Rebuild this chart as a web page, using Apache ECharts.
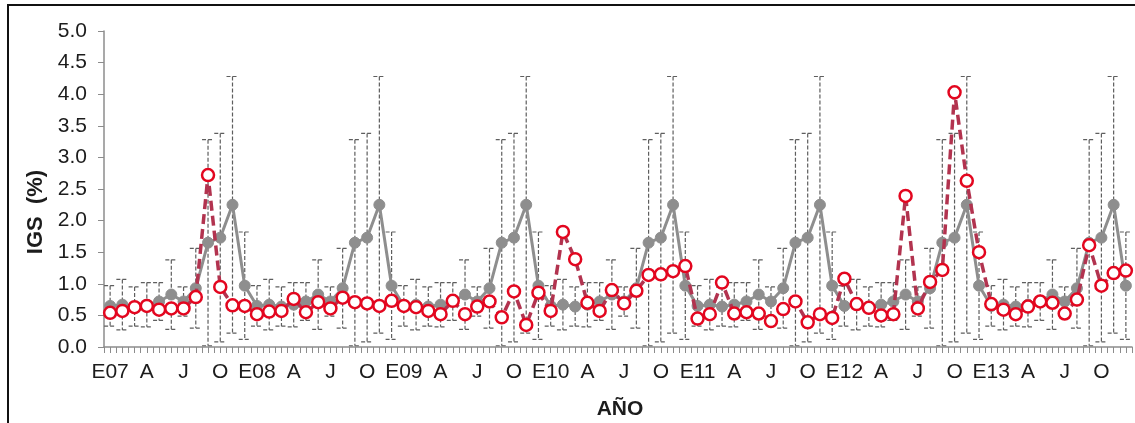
<!DOCTYPE html>
<html>
<head>
<meta charset="utf-8">
<script src="https://cdn.jsdelivr.net/npm/echarts@6/dist/echarts.min.js"></script>
<style>
  html, body { margin: 0; padding: 0; background: #fff; overflow: hidden; }
  #chart { position: absolute; left: 0; top: 0; width: 1135px; height: 423px; }
  #frame { position: absolute; left: 7px; top: 4px; width: 1300px; height: 600px;
           border-top: 2px solid #111; border-left: 2px solid #111; pointer-events: none; }
</style>
</head>
<body>
<div id="chart"></div>
<div id="frame"></div>
<script>
// Years covered (two-digit) and month initials used on the axis
const YEARS = ['07', '08', '09', '10', '11', '12', '13'];
const MONTHS = ['E', 'F', 'M', 'A', 'My', 'Jn', 'J', 'Ag', 'S', 'O', 'N', 'D'];

// Monthly reference pattern (mean and standard deviation of IGS, Jan..Dec)
const MEAN_IGS = [0.65, 0.67, 0.64, 0.67, 0.72, 0.83, 0.72, 0.93, 1.65, 1.73, 2.25, 0.97];
const SD_IGS   = [0.32, 0.40, 0.31, 0.35, 0.30, 0.55, 0.23, 0.63, 1.63, 1.65, 2.03, 0.85];

// Observed monthly IGS (%), one row per year 2007..2013
const IGS_2007 = [0.54, 0.57, 0.63, 0.65, 0.59, 0.61, 0.61, 0.79, 2.72, 0.95, 0.66, 0.65];
const IGS_2008 = [0.52, 0.56, 0.57, 0.76, 0.55, 0.71, 0.61, 0.78, 0.71, 0.69, 0.65, 0.73];
const IGS_2009 = [0.65, 0.63, 0.57, 0.52, 0.73, 0.52, 0.64, 0.72, 0.47, 0.88, 0.35, 0.86];
const IGS_2010 = [0.57, 1.82, 1.39, 0.70, 0.57, 0.90, 0.69, 0.89, 1.14, 1.15, 1.20, 1.28];
const IGS_2011 = [0.45, 0.52, 1.02, 0.53, 0.55, 0.53, 0.41, 0.60, 0.72, 0.39, 0.52, 0.46];
const IGS_2012 = [1.08, 0.68, 0.62, 0.50, 0.52, 2.39, 0.61, 1.03, 1.22, 4.03, 2.63, 1.50];
const IGS_2013 = [0.68, 0.59, 0.52, 0.64, 0.72, 0.70, 0.53, 0.75, 1.61, 0.97, 1.17, 1.21];

const Y_TICKS = { min: 0, max: 5, step: 0.5 };

// ---- build series ----
const categories = [];
YEARS.forEach(y => MONTHS.forEach(m => categories.push(m + y)));
const observed = [].concat(IGS_2007, IGS_2008, IGS_2009, IGS_2010, IGS_2011, IGS_2012, IGS_2013);
const pattern = [];
const errBars = [];
YEARS.forEach(() => MEAN_IGS.forEach((m, k) => {
  const i = pattern.length;
  pattern.push(m);
  errBars.push([i, m + SD_IGS[k], Math.max(0, m - SD_IGS[k])]);
}));
// half-month ticks along the time axis
const halfSteps = [];
categories.forEach(c => { halfSteps.push(c + 'a'); halfSteps.push(c + 'b'); });

function axisLabelFor(cat, idx) {
  const month = idx % 12;
  const yy = YEARS[Math.floor(idx / 12)];
  if (month === 0) return 'E' + yy;
  if (month === 3) return 'A';
  if (month === 6) return 'J';
  if (month === 9) return 'O';
  return '';
}

const chart = echarts.init(document.getElementById('chart'), null, { renderer: 'canvas' });
const FONT = '"Liberation Sans", Arial, Helvetica, sans-serif';

chart.setOption({
  animation: false,
  backgroundColor: '#ffffff',
  grid: { left: 104, right: 3, top: 31, bottom: 76, containLabel: false },
  xAxis: [
    {
      type: 'category',
      data: categories,
      boundaryGap: true,
      axisLine: { show: true, lineStyle: { color: '#8c8c8c', width: 1.5 } },
      axisTick: { show: false },
      axisLabel: {
        interval: 0,
        formatter: axisLabelFor,
        fontFamily: FONT, fontSize: 21, color: '#1c1c1c', margin: 15
      },
      splitLine: { show: false }
    },
    {
      type: 'category',
      data: halfSteps,
      position: 'bottom',
      boundaryGap: true,
      axisLine: { show: false },
      axisTick: { show: true, interval: 0, length: 6, lineStyle: { color: '#8c8c8c', width: 1 } },
      axisLabel: { show: false },
      splitLine: { show: false }
    }
  ],
  yAxis: {
    type: 'value',
    min: Y_TICKS.min, max: Y_TICKS.max, interval: Y_TICKS.step,
    axisLine: { show: true, lineStyle: { color: '#8c8c8c', width: 1.5 } },
    axisTick: { show: true, length: 6, lineStyle: { color: '#8c8c8c' } },
    axisLabel: {
      formatter: v => v.toFixed(1),
      fontFamily: FONT, fontSize: 21, color: '#1c1c1c', margin: 17
    },
    splitLine: { show: false }
  },
  graphic: [
    {
      type: 'text', x: 36, y: 212, rotation: Math.PI / 2,
      style: { text: 'IGS  (%)', font: 'bold 22px ' + FONT, fill: '#1c1c1c',
               textAlign: 'center', textVerticalAlign: 'middle' }
    },
    {
      type: 'text', x: 620, y: 409,
      style: { text: 'AÑO', font: 'bold 21px ' + FONT, fill: '#1c1c1c',
               textAlign: 'center', textVerticalAlign: 'middle' }
    }
  ],
  series: [
    {
      name: 'DE',
      type: 'custom',
      xAxisIndex: 0,
      z: 1,
      data: errBars,
      encode: { x: 0, y: [1, 2] },
      renderItem: function (params, api) {
        const x = api.value(0);
        const top = api.coord([x, api.value(1)]);
        const bot = api.coord([x, api.value(2)]);
        const hw = 6;
        const st = { stroke: '#5e5e5e', lineWidth: 1.2, lineDash: [4, 2], fill: null };
        return {
          type: 'group',
          children: [
            { type: 'line', shape: { x1: top[0], y1: top[1], x2: bot[0], y2: bot[1] }, style: st },
            { type: 'line', shape: { x1: top[0] - hw, y1: top[1], x2: top[0] + hw, y2: top[1] }, style: st },
            { type: 'line', shape: { x1: bot[0] - hw, y1: bot[1], x2: bot[0] + hw, y2: bot[1] }, style: st }
          ]
        };
      }
    },
    {
      name: 'Media',
      type: 'line',
      xAxisIndex: 0,
      z: 2,
      data: pattern,
      symbol: 'circle',
      symbolSize: 11,
      showAllSymbol: true,
      lineStyle: { color: '#8e8e8e', width: 3 },
      itemStyle: { color: '#8e8e8e', borderColor: '#8e8e8e' }
    },
    {
      name: 'IGS',
      type: 'line',
      xAxisIndex: 0,
      z: 3,
      data: observed,
      symbol: 'circle',
      symbolSize: 12,
      showAllSymbol: true,
      lineStyle: { color: '#b2334f', width: 3.5, type: [10, 5] },
      itemStyle: { color: '#ffffff', borderColor: '#e3061f', borderWidth: 2.5 }
    }
  ]
});
</script>
</body>
</html>
